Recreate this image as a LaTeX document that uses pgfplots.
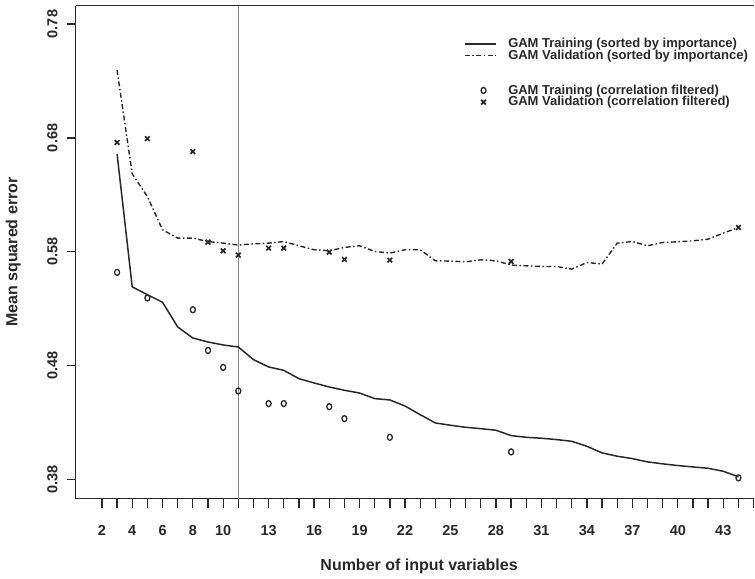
\documentclass[border=0pt]{standalone}
\usepackage{fontspec}
\setmainfont{Liberation Sans}
\usepackage{pgfplots}
\usepackage{pgfplotstable}
\pgfplotsset{compat=1.18}

\definecolor{ink}{RGB}{40,40,40}
\definecolor{cutline}{RGB}{135,135,135}

\pgfplotsset{
  lineleg/.style={legend image code/.code={\draw[##1] (0pt,0pt) -- (31pt,0pt);}},
  markleg/.style={legend image code/.code={\draw[mark repeat=2,mark phase=2,##1] plot coordinates {(0pt,0pt) (19pt,0pt) (31pt,0pt)};}},
}

% GAM sorted by importance
\pgfplotstableread{
n  train   valid
3  0.6660  0.7396
4  0.5492  0.6484
5  0.5423  0.6285
6  0.5357  0.5993
7  0.5140  0.5920
8  0.5043  0.5920
9  0.5008  0.5890
10 0.4982  0.5876
11 0.4964  0.5859
12 0.4853  0.5870
13 0.4789  0.5876
14 0.4759  0.5890
15 0.4686  0.5853
16 0.4648  0.5818
17 0.4613  0.5809
18 0.4584  0.5838
19 0.4560  0.5853
20 0.4511  0.5803
21 0.4499  0.5789
22 0.4446  0.5818
23 0.4370  0.5818
24 0.4297  0.5721
25 0.4277  0.5718
26 0.4259  0.5712
27 0.4247  0.5730
28 0.4233  0.5721
29 0.4186  0.5683
30 0.4171  0.5677
31 0.4163  0.5671
32 0.4151  0.5671
33 0.4136  0.5648
34 0.4092  0.5706
35 0.4034  0.5692
36 0.4005  0.5876
37 0.3984  0.5890
38 0.3955  0.5853
39 0.3938  0.5882
40 0.3923  0.5888
41 0.3911  0.5896
42 0.3899  0.5911
43 0.3873  0.5964
44 0.3824  0.6013
}\sorted

% GAM correlation filtered
\pgfplotstableread{
n  train   valid
3  0.5619  0.6760
5  0.5394  0.6794
8  0.5291  0.6680
9  0.4934  0.5885
10 0.4785  0.5809
11 0.4578  0.5771
13 0.4467  0.5832
14 0.4467  0.5832
17 0.4440  0.5797
18 0.4335  0.5733
21 0.4171  0.5727
29 0.4043  0.5715
44 0.3815  0.6013
}\filtered

\begin{document}
\begin{tikzpicture}
\begin{axis}[
    scale only axis,
    width=679.3pt, height=493.3pt,
    xmin=0.266, xmax=45.05,
    ymin=0.3633, ymax=0.7961,
    axis x line=box, axis y line=left,
    axis line style={-, ink, line width=1.3pt},
    xtick pos=left, ytick pos=left,
    tick align=outside,
    major tick length=9pt,
    every tick/.style={ink, line width=1.3pt},
    xtick={2,...,45},
    xticklabels={2,{},4,{},6,{},8,{},10,{},{},13,{},{},16,{},{},19,{},{},22,{},{},25,{},{},28,{},{},31,{},{},34,{},{},37,{},{},40,{},{},43,{},{}},
    ytick={0.38,0.48,0.58,0.68,0.78},
    yticklabels={0.38,0.48,0.58,0.68,0.78},
    /pgf/number format/assume math mode=true,
    tick label style={font=\fontsize{14.5}{14.5}\selectfont\bfseries, text=ink},
    xticklabel style={anchor=north, inner sep=0pt},
    xticklabel shift=18pt,
    yticklabel style={rotate=90, anchor=south, inner sep=0pt},
    yticklabel shift=9pt,
    xlabel={Number of input variables},
    ylabel={Mean squared error},
    label style={font=\fontsize{16}{16}\selectfont\bfseries, text=ink},
    xlabel style={at={(axis description cs:0.506,-0.1372)}, anchor=center},
    ylabel style={at={(axis description cs:-0.0919,0.5)}, anchor=center},
    legend cell align=left,
    legend style={draw=none, fill=none, at={(0.5716,0.935)}, anchor=north west,
        inner sep=0pt, row sep=0pt, column sep=12pt,
        font=\fontsize{13}{13}\selectfont\bfseries,
        nodes={inner sep=0pt, text height=9.5pt, text depth=2.2pt, text=ink}},
]
\addplot[cutline, line width=1.2pt, forget plot] coordinates {(11,0.3633) (11,0.7961)};

\addplot[ink, line width=1.5pt, no marks, lineleg]
    table[x=n, y=train] {\sorted};
\addlegendentry{GAM Training (sorted by importance)}

\addplot[ink, line width=1.4pt, no marks, dash pattern=on 5pt off 2.5pt on 1.5pt off 2.5pt, lineleg]
    table[x=n, y=valid] {\sorted};
\addlegendentry{GAM Validation (sorted by importance)}

\addlegendimage{empty legend}
\addlegendentry[text height=21.1pt]{}

\addplot[only marks, mark=o, mark size=2.5pt,
    mark options={ink, line width=1.3pt, yscale=1.2}, markleg]
    table[x=n, y=train] {\filtered};
\addlegendentry{GAM Training (correlation filtered)}

\addplot[only marks, mark=x, mark size=3.3pt,
    mark options={ink, line width=1.7pt}, markleg]
    table[x=n, y=valid] {\filtered};
\addlegendentry{GAM Validation (correlation filtered)}
\end{axis}
\path (current axis.south west) +(-75.7pt,-80pt) (current axis.north east) +(0pt,5.7pt);
\end{tikzpicture}
\end{document}
